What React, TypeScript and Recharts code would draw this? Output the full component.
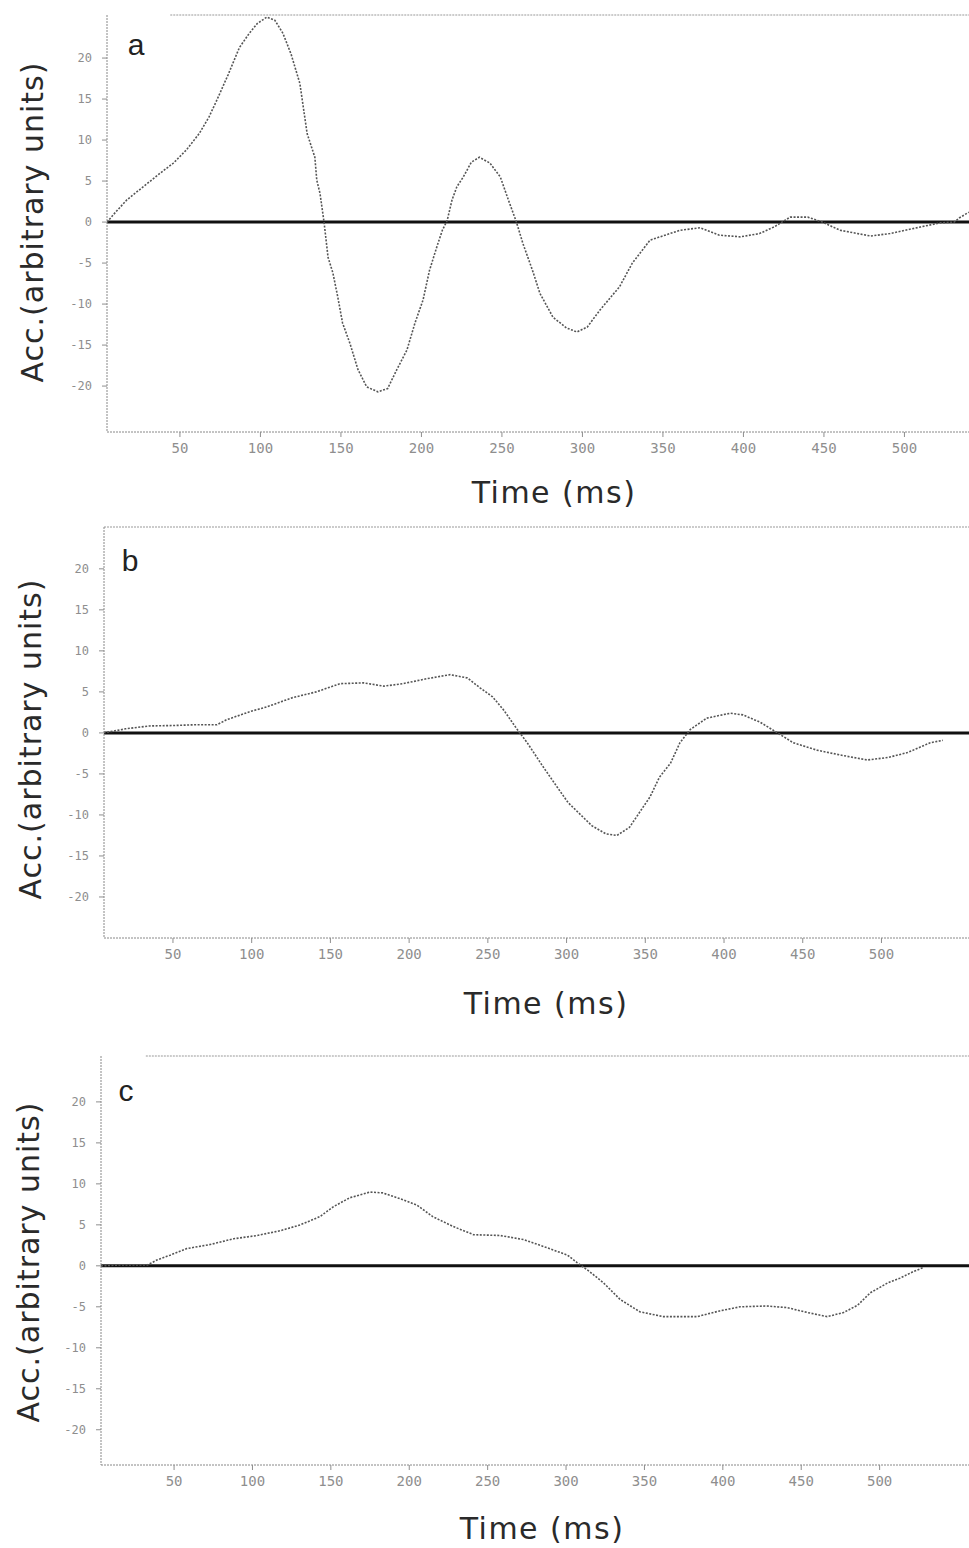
import React from 'react';
import { LineChart, Line, XAxis, YAxis, ReferenceLine, Label } from 'recharts';

const xTicks = [50, 100, 150, 200, 250, 300, 350, 400, 450, 500];
const yTicks = [-20, -15, -10, -5, 0, 5, 10, 15, 20];

// panel a
const timeA = [4.7, 10, 17, 24, 31, 38, 46, 54, 62, 68, 73, 80, 87, 93, 98, 104, 109, 114, 119, 124.5, 129, 133.8, 135, 137, 139.5, 142, 145, 148, 151, 155.6, 160.6, 166, 173, 179, 184.7, 191, 196, 201, 205, 209.6, 213, 216, 219, 222, 226, 231, 236, 242.5, 249, 254, 259, 263, 269, 273.6, 281.7, 290, 296.6, 303, 311, 323, 331, 342, 360.6, 373, 385, 398, 410, 419, 429, 440, 449, 460, 479, 491, 510, 522, 531, 534, 540];
const accA = [0, 1.2, 2.7, 3.8, 4.9, 6, 7.2, 8.8, 10.8, 12.8, 14.9, 18, 21.3, 23, 24.2, 25, 24.6, 23, 20.5, 16.9, 10.8, 7.9, 5.1, 3.5, 0, -4.3, -6.2, -9.1, -12.3, -14.8, -18, -20.1, -20.7, -20.3, -18, -15.6, -12.3, -9.5, -5.9, -3, -1, 0.2, 2.7, 4.3, 5.5, 7.3, 7.9, 7.2, 5.5, 2.7, 0, -2.6, -5.9, -8.7, -11.6, -12.9, -13.4, -12.8, -10.7, -7.9, -5, -2.2, -1, -0.7, -1.6, -1.8, -1.4, -0.6, 0.6, 0.6, 0, -1, -1.7, -1.4, -0.6, -0.1, 0, 0.5, 1.2];

// panel b
const timeB = [6, 20, 35, 50, 65, 78, 84, 99, 110, 126, 141, 156, 171, 184, 196, 211, 226, 237, 245, 253, 260, 268, 275, 285, 294, 301, 316, 325, 332, 340, 347, 353, 359, 366, 372, 378.5, 389, 404, 412, 423, 434, 444, 459, 474, 491, 504, 516.5, 531, 539];
const accB = [0, 0.5, 0.85, 0.9, 1, 1, 1.6, 2.6, 3.2, 4.3, 5, 6, 6.1, 5.7, 6, 6.6, 7.1, 6.7, 5.5, 4.4, 2.8, 0.6, -1.2, -4.1, -6.6, -8.5, -11.3, -12.3, -12.5, -11.5, -9.5, -7.8, -5.4, -3.7, -1.2, 0.4, 1.8, 2.4, 2.2, 1.3, 0, -1.2, -2.1, -2.7, -3.3, -3, -2.4, -1.2, -0.9];

// panel c
const timeC = [3.4, 15, 33, 39, 47.5, 58, 73, 88, 103, 118, 130.5, 143, 151.5, 162, 175, 183, 194, 205, 215, 228, 241, 258, 273, 288, 301, 307, 315, 324, 334.5, 347, 362, 383.5, 398, 411, 428, 441, 454, 466.5, 477, 486, 494, 505, 513, 521.5, 528];
const accC = [0, 0.1, 0.1, 0.7, 1.3, 2.1, 2.6, 3.3, 3.7, 4.3, 5, 6, 7.2, 8.3, 9, 8.9, 8.2, 7.4, 6, 4.8, 3.8, 3.7, 3.2, 2.2, 1.3, 0.4, -0.7, -2.1, -4.1, -5.6, -6.2, -6.2, -5.5, -5, -4.9, -5.1, -5.7, -6.2, -5.7, -4.8, -3.3, -2.1, -1.5, -0.7, -0.2];

const toRows = (t: number[], v: number[]) => t.map((x, i) => ({ t: x, v: v[i] }));

const titleFont = "'DejaVu Sans', sans-serif";
const tickFont = "'DejaVu Sans Mono', monospace";
const GREY = '#8e8e8e';

interface PanelProps {
  letter: string;
  top: number;
  height: number;
  axisHeight: number;
  marginTop: number;
  left: number;
  xDomain: [number, number];
  yDomain: [number, number];
  topLineFrom: number;
  rows: { t: number; v: number }[];
  letterPos: [number, number];
  yTitlePos: [number, number];
  timePos: [number, number];
}

function Panel(p: PanelProps) {
  return (
    <div style={{ position: 'absolute', left: 0, top: p.top }}>
      <LineChart width={969} height={p.height} data={p.rows} margin={{ top: p.marginTop, right: 0, bottom: 0, left: 0 }}>
        <XAxis
          dataKey="t"
          type="number"
          domain={p.xDomain}
          ticks={xTicks}
          allowDataOverflow
          height={p.axisHeight}
          tickSize={5}
          tickMargin={6}
          stroke={GREY}
          axisLine={{ stroke: '#888', strokeDasharray: '2 1' }}
          tick={{ fontSize: 14, fill: GREY, fontFamily: tickFont }}
        >
          <Label
            content={() => (
              <text x={p.timePos[0]} y={p.timePos[1]} textAnchor="middle" fontSize={30} letterSpacing={1.5}
                fontFamily={titleFont} fill="#2a2a2a">
                Time (ms)
              </text>
            )}
          />
        </XAxis>
        <YAxis
          type="number"
          domain={p.yDomain}
          ticks={yTicks}
          allowDataOverflow
          width={p.left}
          tickSize={5}
          tickMargin={10}
          stroke={GREY}
          axisLine={{ stroke: '#888', strokeDasharray: '2 1' }}
          tick={{ fontSize: 12, fill: GREY, fontFamily: tickFont }}
        >
          <Label
            content={() => (
              <g>
                <text x={p.yTitlePos[0]} y={p.yTitlePos[1]} textAnchor="middle" dominantBaseline="central"
                  transform={`rotate(-90, ${p.yTitlePos[0]}, ${p.yTitlePos[1]})`}
                  fontSize={30} letterSpacing={1} fontFamily={titleFont} fill="#2a2a2a">
                  Acc.(arbitrary units)
                </text>
                <text x={p.letterPos[0]} y={p.letterPos[1]} textAnchor="middle" fontSize={30}
                  fontFamily="'Liberation Sans', sans-serif" fill="#222">
                  {p.letter}
                </text>
              </g>
            )}
          />
        </YAxis>
        <ReferenceLine
          segment={[{ x: p.topLineFrom, y: p.yDomain[1] }, { x: p.xDomain[1], y: p.yDomain[1] }]}
          stroke="#999"
          strokeDasharray="2 1"
          ifOverflow="visible"
        />
        <ReferenceLine y={0} stroke="#111" strokeWidth={3} />
        <Line
          type="linear"
          dataKey="v"
          stroke="#555"
          strokeWidth={1.6}
          strokeDasharray="2 1.5"
          dot={false}
          isAnimationActive={false}
        />
      </LineChart>
    </div>
  );
}

export default function App() {
  return (
    <div style={{ position: 'absolute', left: 0, top: 0, width: 969, height: 1548, background: '#fff' }}>
      <Panel
        letter="a" top={0} height={515} axisHeight={83} marginTop={15} left={107}
        xDomain={[4.7, 540.1]} yDomain={[-25.6, 25.25]} topLineFrom={44}
        rows={toRows(timeA, accA)}
        letterPos={[136, 55]} yTitlePos={[32, 222]} timePos={[554, 503]}
      />
      <Panel
        letter="b" top={515} height={506} axisHeight={83} marginTop={12} left={104}
        xDomain={[6.2, 555.6]} yDomain={[-25, 25.1]} topLineFrom={6.2}
        rows={toRows(timeB, accB)}
        letterPos={[130, 56]} yTitlePos={[30, 224]} timePos={[546, 499]}
      />
      <Panel
        letter="c" top={1021} height={527} axisHeight={83} marginTop={35} left={101}
        xDomain={[3.4, 557]} yDomain={[-24.3, 25.6]} topLineFrom={32}
        rows={toRows(timeC, accC)}
        letterPos={[126, 80]} yTitlePos={[28, 241]} timePos={[542, 518]}
      />
    </div>
  );
}
